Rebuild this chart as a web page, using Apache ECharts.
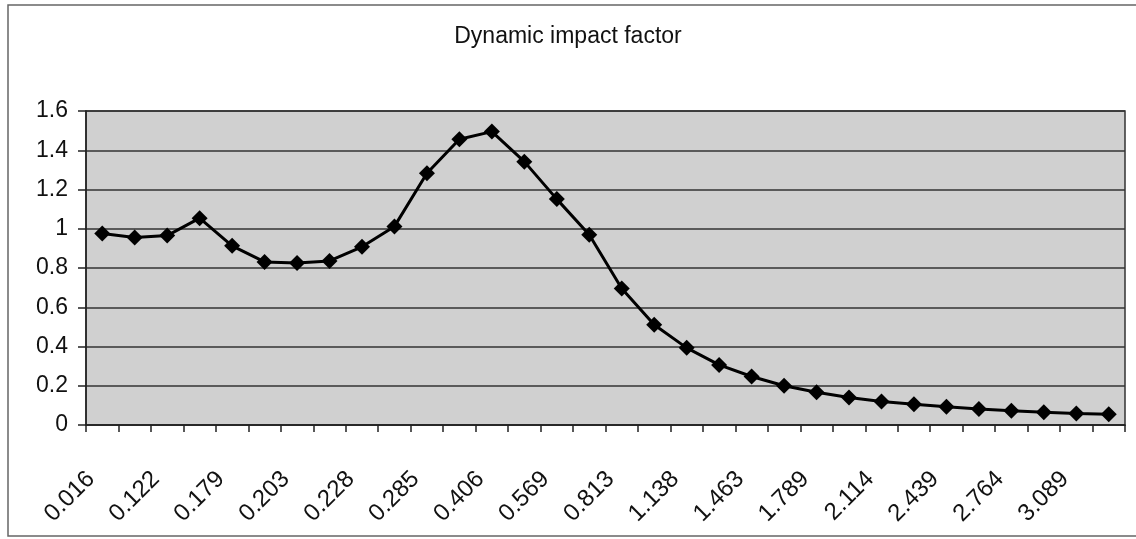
<!DOCTYPE html>
<html>
<head>
<meta charset="utf-8">
<title>Dynamic impact factor</title>
<script src="https://cdn.jsdelivr.net/npm/echarts@6/dist/echarts.min.js"></script>
<style>
    html, body { margin: 0; padding: 0; background: #fff; }
    #main { width: 1136px; height: 539px; }
</style>
</head>
<body>
<div id="main"></div>
<script type="text/javascript">
    // x values (only every other one is printed on the axis)
    var categories = [
        '0.016', '0.069', '0.122', '0.150', '0.179', '0.191', '0.203', '0.215',
        '0.228', '0.256', '0.285', '0.345', '0.406', '0.488', '0.569', '0.691',
        '0.813', '0.976', '1.138', '1.301', '1.463', '1.626', '1.789', '1.951',
        '2.114', '2.276', '2.439', '2.601', '2.764', '2.926', '3.089', '3.251'
    ];
    // dynamic impact factor
    var impactFactor = [
        0.976, 0.955, 0.965, 1.054, 0.913, 0.831, 0.826, 0.836,
        0.908, 1.012, 1.283, 1.456, 1.495, 1.342, 1.151, 0.969,
        0.696, 0.511, 0.393, 0.306, 0.247, 0.200, 0.167, 0.140,
        0.120, 0.106, 0.093, 0.082, 0.072, 0.065, 0.059, 0.055
    ];
    var yTicks = [0, 0.2, 0.4, 0.6, 0.8, 1, 1.2, 1.4, 1.6];

    var FONT = 'Liberation Sans, Arial, Helvetica, sans-serif';
    var myChart = echarts.init(document.getElementById('main'));

    var option = {
        backgroundColor: '#fff',
        animation: false,
        title: {
            text: 'Dynamic impact factor',
            left: 'center',
            top: 20,
            textStyle: { fontFamily: FONT, fontSize: 23, fontWeight: 'normal', color: '#111' }
        },
        graphic: [{
            type: 'rect',
            shape: { x: 8, y: 5, width: 1140, height: 531 },
            style: { fill: 'none', stroke: '#666', lineWidth: 1.5 },
            silent: true
        }],
        grid: {
            left: 86,
            right: 11,
            top: 111,
            bottom: 114,
            show: true,
            backgroundColor: '#d0d0d0',
            borderColor: '#333',
            borderWidth: 1.5
        },
        xAxis: {
            type: 'category',
            boundaryGap: true,
            data: categories,
            axisLine: { lineStyle: { color: '#222', width: 1.5 } },
            axisTick: { show: true, interval: 0, length: 7, lineStyle: { color: '#222', width: 1.5 } },
            axisLabel: {
                interval: 1,
                rotate: 45,
                margin: 39,
                padding: [0, 16, 30, 0],
                fontFamily: FONT,
                fontSize: 24,
                color: '#111'
            },
            splitLine: { show: false }
        },
        yAxis: {
            type: 'value',
            min: yTicks[0],
            max: yTicks[yTicks.length - 1],
            interval: 0.2,
            axisLine: { show: true, lineStyle: { color: '#222', width: 1.5 } },
            axisTick: { show: true, length: 8, lineStyle: { color: '#222', width: 1.5 } },
            axisLabel: {
                margin: 18,
                fontFamily: FONT,
                fontSize: 23,
                color: '#111'
            },
            splitLine: { show: true, lineStyle: { color: '#333', width: 1.5 } }
        },
        series: [{
            name: 'Dynamic impact factor',
            type: 'line',
            data: impactFactor,
            symbol: 'diamond',
            symbolSize: 16,
            showAllSymbol: true,
            lineStyle: { color: '#000', width: 3 },
            itemStyle: { color: '#000' }
        }]
    };
    myChart.setOption(option);
</script>
</body>
</html>
